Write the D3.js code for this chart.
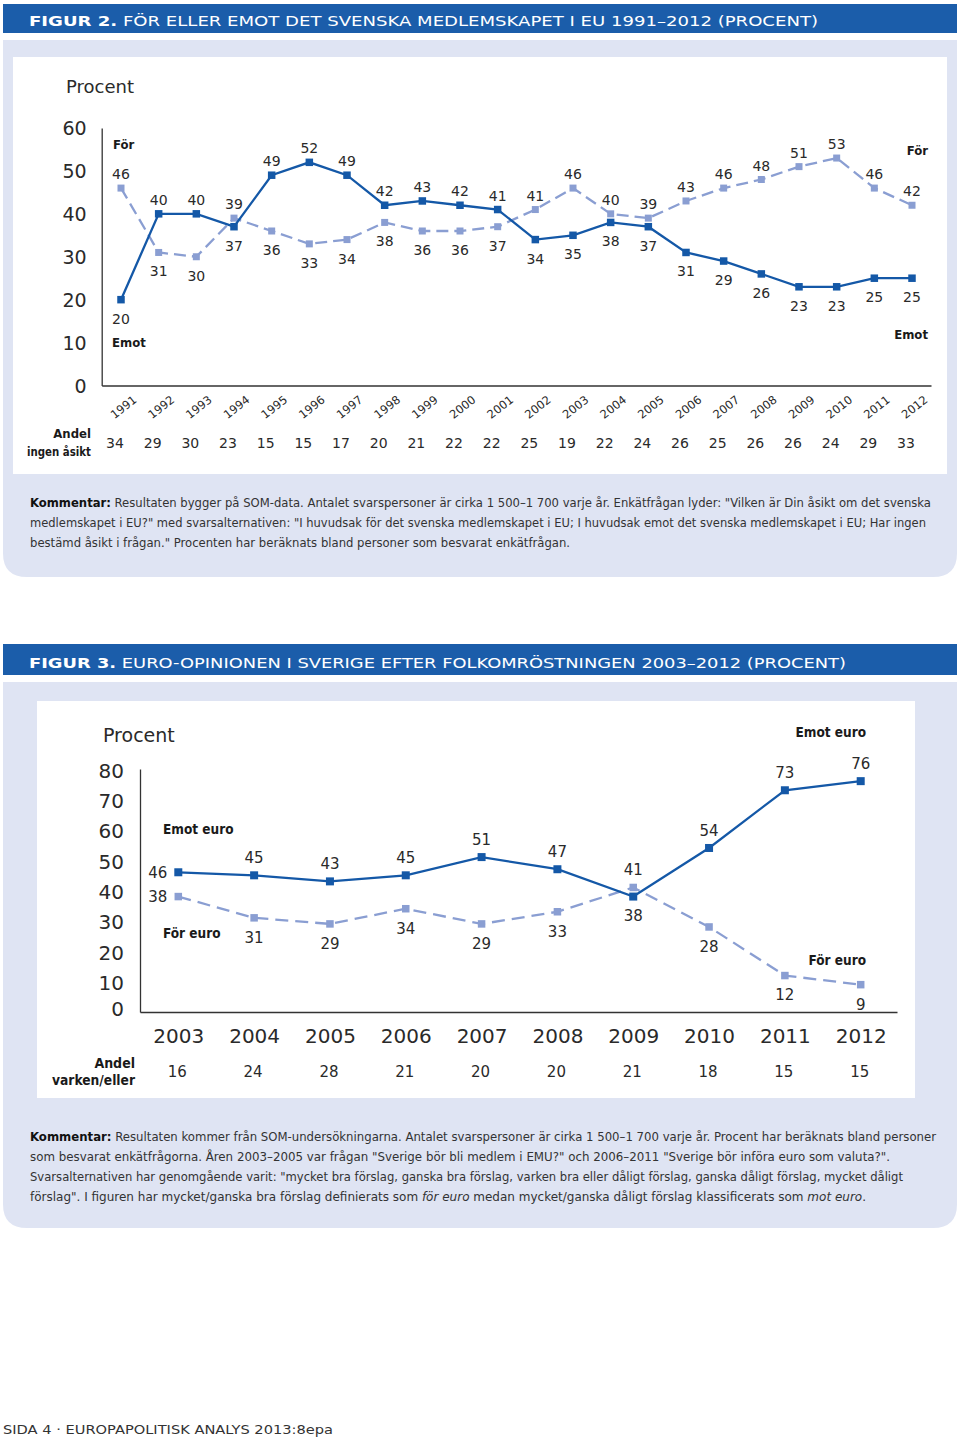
<!DOCTYPE html>
<html><head><meta charset="utf-8">
<script src="https://cdn.jsdelivr.net/npm/d3@7"></script>
<style>body{margin:0;background:#fff}svg{display:block}</style>
</head><body>
<svg id="page" width="960" height="1439"></svg>
<script>
// ---------- DATA ----------
const years2 = [1991,1992,1993,1994,1995,1996,1997,1998,1999,2000,2001,2002,2003,2004,2005,2006,2007,2008,2009,2010,2011,2012];
const for2   = [46,31,30,39,36,33,34,38,36,36,37,41,46,40,39,43,46,48,51,53,46,42];
const emot2  = [20,40,40,37,49,52,49,42,43,42,41,34,35,38,37,31,29,26,23,23,25,25];
const none2  = [34,29,30,23,15,15,17,20,21,22,22,25,19,22,24,26,25,26,26,24,29,33];
const yTicks2 = [0,10,20,30,40,50,60];

const years3   = [2003,2004,2005,2006,2007,2008,2009,2010,2011,2012];
const emot3    = [46,45,43,45,51,47,38,54,73,76];
const for3     = [38,31,29,34,29,33,41,28,12,9];
const neither3 = [16,24,28,21,20,20,21,18,15,15];
const yTicks3  = [0,10,20,30,40,50,60,70,80];

const title2 = ["FIGUR 2.", " FÖR ELLER EMOT DET SVENSKA MEDLEMSKAPET I EU 1991–2012 (PROCENT)"];
const title3 = ["FIGUR 3.", " EURO-OPINIONEN I SVERIGE EFTER FOLKOMRÖSTNINGEN 2003–2012 (PROCENT)"];
const comment2 = [
  [["Kommentar:","b"],[" Resultaten bygger på SOM-data. Antalet svarspersoner är cirka 1 500–1 700 varje år. Enkätfrågan lyder: \"Vilken är Din åsikt om det svenska",""]],
  [["medlemskapet i EU?\" med svarsalternativen: \"I huvudsak för det svenska medlemskapet i EU; I huvudsak emot det svenska medlemskapet i EU; Har ingen",""]],
  [["bestämd åsikt i frågan.\" Procenten har beräknats bland personer som besvarat enkätfrågan.",""]]
];
const comment3 = [
  [["Kommentar:","b"],[" Resultaten kommer från SOM-undersökningarna. Antalet svarspersoner är cirka 1 500–1 700 varje år. Procent har beräknats bland personer",""]],
  [["som besvarat enkätfrågorna. Åren 2003–2005 var frågan \"Sverige bör bli medlem i EMU?\" och 2006–2011 \"Sverige bör införa euro som valuta?\".",""]],
  [["Svarsalternativen har genomgående varit: \"mycket bra förslag, ganska bra förslag, varken bra eller dåligt förslag, ganska dåligt förslag, mycket dåligt",""]],
  [["förslag\". I figuren har mycket/ganska bra förslag definierats som ",""],["för euro","i"],[" medan mycket/ganska dåligt förslag klassificerats som ",""],["mot euro","i"],[".",""]]
];
const footer = "SIDA 4 · EUROPAPOLITISK ANALYS 2013:8epa";

// ---------- STYLE ----------
const C = {dark:"#1458a7", light:"#8a9ed2", bar:"#1b5daa", lav:"#dfe4f3", txt:"#2a2a2a"};
const F = "'DejaVu Sans', sans-serif";
const FC = "'DejaVu Sans Condensed', 'DejaVu Sans', sans-serif";

const svg = d3.select("#page");

function panel(y0, y1, r) {
  const x0 = 3, x1 = 957;
  svg.append("path")
    .attr("d", `M${x0},${y0}H${x1}V${y1-r}Q${x1},${y1} ${x1-r},${y1}H${x0+r}Q${x0},${y1} ${x0},${y1-r}Z`)
    .attr("fill", C.lav);
}
function titleBar(y, h, parts, width) {
  svg.append("rect").attr("x",3).attr("y",y).attr("width",954).attr("height",h).attr("fill",C.bar);
  const t = svg.append("text").attr("x",29).attr("y",y+h-7.5)
    .attr("font-family",F).attr("font-size",14.5).attr("fill","#fff")
    .attr("textLength",width).attr("lengthAdjust","spacingAndGlyphs");
  t.append("tspan").attr("font-weight","bold").text(parts[0]);
  t.append("tspan").text(parts[1]);
}
function comment(lines, y0, widths) {
  lines.forEach((ln,i)=>{
    const t = svg.append("text").attr("x",30).attr("y",y0+i*20.2)
      .attr("font-family",FC).attr("font-size",13).attr("fill","#333")
      .attr("textLength",widths[i]).attr("lengthAdjust","spacingAndGlyphs");
    ln.forEach(p=>{
      const s = t.append("tspan").text(p[0]);
      if (p[1]==="b") s.attr("font-weight","bold").attr("fill","#111");
      if (p[1]==="i") s.attr("font-style","italic");
    });
  });
}
function boldLabel(g, x, y, txt, anchor, fs) {
  g.append("text").attr("x",x).attr("y",y).attr("text-anchor",anchor)
    .attr("font-family",FC).attr("font-weight","bold").attr("font-size",fs)
    .attr("fill","#1a1a1a").text(txt);
}
function drawSeries(g, x, y, yrs, vals, color, dash, size) {
  const line = d3.line().x((d,i)=>x(yrs[i])).y(d=>y(d));
  g.append("path").datum(vals).attr("d",line).attr("fill","none")
    .attr("stroke",color).attr("stroke-width",2.3).attr("stroke-dasharray",dash);
  g.selectAll(null).data(vals).join("rect")
    .attr("x",(d,i)=>x(yrs[i])-size/2).attr("y",d=>y(d)-size/2)
    .attr("width",size).attr("height",size).attr("fill",color);
}
function valueLabels(g, x, y, yrs, vals, other, fs, up, down, leftFirst) {
  g.selectAll(null).data(vals).join("text")
    .attr("font-family",F).attr("font-size",fs).attr("fill",C.txt)
    .attr("text-anchor",(d,i)=> (leftFirst && i===0) ? "end" : "middle")
    .attr("x",(d,i)=> (leftFirst && i===0) ? x(yrs[i])-11 : x(yrs[i]))
    .attr("y",(d,i)=>{
      if (leftFirst && i===0) return y(d) + fs*0.36;
      const above = d >= other[i];
      return y(d) + (above ? -up : down) + fs*0.36;
    })
    .text(d=>d);
}

// ================= FIGUR 2 =================
titleBar(4, 29, title2, 789);
panel(40, 577, 24);
svg.append("rect").attr("x",13).attr("y",57).attr("width",934).attr("height",417).attr("fill","#fff");
comment(comment2, 506.5, [901, 896, 540]);

const g2 = svg.append("g");
const x2 = d3.scalePoint().domain(years2).range([121, 912]);
const y2 = d3.scaleLinear().domain([0,60]).range([385.5, 128]);

g2.append("text").attr("x",66).attr("y",93).attr("font-family",F).attr("font-size",18)
  .attr("fill",C.txt).text("Procent");

// y axis
const ya2 = g2.append("g").attr("transform","translate(101.7,0)")
  .call(d3.axisLeft(y2).tickValues(yTicks2).tickSize(0).tickSizeOuter(0).tickPadding(15));
ya2.select(".domain").attr("stroke","#333").attr("stroke-width",1.3);
ya2.selectAll("text").attr("font-family",F).attr("font-size",19).attr("fill",C.txt).attr("dy","0.36em");
// x axis line
const xl2 = d3.scaleLinear().range([101.7, 931]);
const xa2 = g2.append("g").attr("transform",`translate(0,${y2(0)})`)
  .call(d3.axisBottom(xl2).ticks(0).tickSize(0).tickSizeOuter(0));
xa2.select(".domain").attr("stroke","#333").attr("stroke-width",1.3);
// rotated years
const yr2 = g2.append("g").attr("transform",`translate(0,${y2(0)})`)
  .call(d3.axisBottom(x2).tickSize(0).tickFormat(d3.format("d")));
yr2.select(".domain").remove();
yr2.selectAll("text").attr("font-family",F).attr("font-size",11.5).attr("fill",C.txt)
  .attr("text-anchor","middle").attr("y",0).attr("dy","0.35em")
  .attr("transform","translate(2,21.5) rotate(-38)");

// series
drawSeries(g2, x2, y2, years2, for2, C.light, "12,6", 7);
drawSeries(g2, x2, y2, years2, emot2, C.dark, null, 7.5);
valueLabels(g2, x2, y2, years2, for2, emot2, 14, 14, 19, false);
valueLabels(g2, x2, y2, years2, emot2, for2, 14, 14, 19, false);

boldLabel(g2, 113, 149, "För", "start", 13);
boldLabel(g2, 112, 347, "Emot", "start", 13);
boldLabel(g2, 928, 155, "För", "end", 13);
boldLabel(g2, 928, 339, "Emot", "end", 13);

// Andel ingen åsikt
g2.append("text").attr("x",91).attr("y",437.5).attr("text-anchor","end").attr("font-family",FC)
  .attr("font-weight","bold").attr("font-size",13).attr("fill","#1a1a1a").text("Andel");
g2.append("text").attr("x",91).attr("y",455.5).attr("text-anchor","end").attr("font-family",FC)
  .attr("font-weight","bold").attr("font-size",13).attr("fill","#1a1a1a")
  .attr("textLength",64).attr("lengthAdjust","spacingAndGlyphs").text("ingen åsikt");
g2.selectAll(null).data(none2).join("text")
  .attr("x",(d,i)=>x2(years2[i])-6).attr("y",448).attr("text-anchor","middle")
  .attr("font-family",F).attr("font-size",14).attr("fill",C.txt).text(d=>d);

// ================= FIGUR 3 =================
titleBar(644, 31, title3, 817);
panel(682, 1228, 24);
svg.append("rect").attr("x",37).attr("y",701).attr("width",878).attr("height",397).attr("fill","#fff");
comment(comment3, 1140.5, [906, 860, 873, 836]);

const g3 = svg.append("g");
const x3 = d3.scalePoint().domain(years3).range([178.3, 860.7]);
const y3 = d3.scaleLinear().domain([0,80]).range([1012, 769]);

g3.append("text").attr("x",103).attr("y",742).attr("font-family",F).attr("font-size",19)
  .attr("fill",C.txt).text("Procent");

const ya3 = g3.append("g").attr("transform","translate(140,0)")
  .call(d3.axisLeft(y3).tickValues(yTicks3).tickSize(0).tickSizeOuter(0).tickPadding(16));
ya3.select(".domain").attr("stroke","#333").attr("stroke-width",1.3);
ya3.selectAll("text").attr("font-family",F).attr("font-size",20).attr("fill",C.txt)
  .attr("dy",(d)=> d===0 ? "0.15em" : "0.4em");
const xl3 = d3.scaleLinear().range([140, 897]);
const xa3 = g3.append("g").attr("transform",`translate(0,${y3(0)})`)
  .call(d3.axisBottom(xl3).ticks(0).tickSize(0).tickSizeOuter(0));
xa3.select(".domain").attr("stroke","#333").attr("stroke-width",1.3);
const yr3 = g3.append("g").attr("transform",`translate(0,${y3(0)})`)
  .call(d3.axisBottom(x3).tickSize(0).tickPadding(16.5).tickFormat(d3.format("d")));
yr3.select(".domain").remove();
yr3.selectAll("text").attr("font-family",F).attr("font-size",20).attr("fill",C.txt);

drawSeries(g3, x3, y3, years3, for3, C.light, "13,7", 7.5);
drawSeries(g3, x3, y3, years3, emot3, C.dark, null, 8);
valueLabels(g3, x3, y3, years3, emot3, for3, 15, 17.5, 19.5, true);
valueLabels(g3, x3, y3, years3, for3, emot3, 15, 17.5, 19.5, true);

boldLabel(g3, 163, 834, "Emot euro", "start", 13.5);
boldLabel(g3, 163, 938, "För euro", "start", 13.5);
boldLabel(g3, 866, 737, "Emot euro", "end", 13.5);
boldLabel(g3, 866, 965, "För euro", "end", 13.5);

g3.append("text").attr("x",135).attr("y",1067.5).attr("text-anchor","end").attr("font-family",FC)
  .attr("font-weight","bold").attr("font-size",14).attr("fill","#1a1a1a").text("Andel");
g3.append("text").attr("x",135).attr("y",1085).attr("text-anchor","end").attr("font-family",FC)
  .attr("font-weight","bold").attr("font-size",14).attr("fill","#1a1a1a")
  .attr("textLength",83).attr("lengthAdjust","spacingAndGlyphs").text("varken/eller");
g3.selectAll(null).data(neither3).join("text")
  .attr("x",(d,i)=>x3(years3[i])-1).attr("y",1077).attr("text-anchor","middle")
  .attr("font-family",F).attr("font-size",15).attr("fill",C.txt).text(d=>d);

// footer
svg.append("text").attr("x",3).attr("y",1434).attr("font-family",F).attr("font-size",13)
  .attr("fill","#333").attr("textLength",330).attr("lengthAdjust","spacingAndGlyphs").text(footer);
</script>
</body></html>
